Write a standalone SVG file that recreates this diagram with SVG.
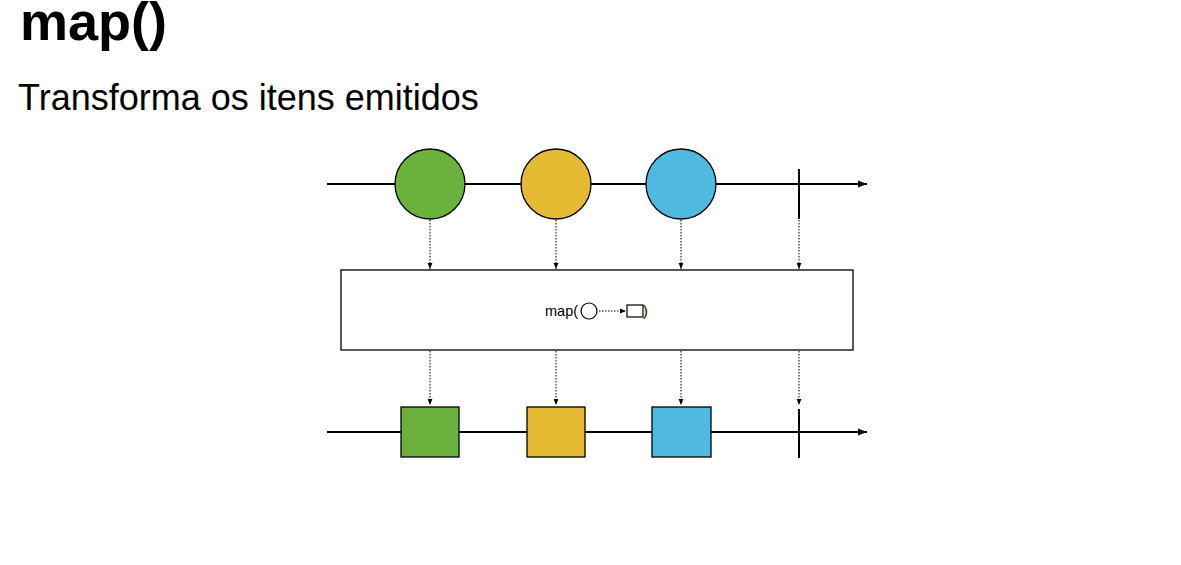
<svg xmlns="http://www.w3.org/2000/svg" width="1181" height="565" viewBox="0 0 1181 565">
<defs>
<marker id="big" viewBox="0 0 10 10" refX="10" refY="5" markerWidth="9" markerHeight="9" markerUnits="userSpaceOnUse" orient="auto"><path d="M0,1 L10,5 L0,9 Z" fill="#000"/></marker>
<marker id="small" viewBox="0 0 10 10" refX="10" refY="5" markerWidth="6" markerHeight="6" markerUnits="userSpaceOnUse" orient="auto"><path d="M0,1 L10,5 L0,9 Z" fill="#000"/></marker>
</defs>
<style>
.line{stroke:#000;stroke-width:2;fill:none}
.dot{stroke:#000;stroke-width:1;stroke-dasharray:1.5 1.5;fill:none}
.item{stroke:#000;stroke-width:1.3}
.g{fill:#6bb23c}.y{fill:#e5bb33}.b{fill:#4fb9e0}
.t{font-family:"Liberation Sans",Arial,sans-serif;fill:#000}
</style>
<rect width="1181" height="565" fill="#fff"/>
<text class="t" x="20" y="40" font-size="54" font-weight="bold">map()</text>
<text class="t" x="18" y="110" font-size="36">Transforma os itens emitidos</text>
<g id="connectors">
<line class="line" x1="327" y1="184" x2="867" y2="184" marker-end="url(#big)"/>
<line class="line" x1="327" y1="432" x2="867" y2="432" marker-end="url(#big)"/>
<line class="dot" x1="430" y1="220" x2="430" y2="269" marker-end="url(#small)"/>
<line class="dot" x1="556" y1="220" x2="556" y2="269" marker-end="url(#small)"/>
<line class="dot" x1="681" y1="220" x2="681" y2="269" marker-end="url(#small)"/>
<line class="dot" x1="799" y1="220" x2="799" y2="269" marker-end="url(#small)"/>
<line class="dot" x1="430" y1="351" x2="430" y2="405" marker-end="url(#small)"/>
<line class="dot" x1="556" y1="351" x2="556" y2="405" marker-end="url(#small)"/>
<line class="dot" x1="681" y1="351" x2="681" y2="405" marker-end="url(#small)"/>
<line class="dot" x1="799" y1="351" x2="799" y2="405" marker-end="url(#small)"/>
</g>
<g id="in-green"><circle class="item g" cx="430" cy="184" r="35"/></g>
<g id="in-yellow"><circle class="item y" cx="556" cy="184" r="35"/></g>
<g id="in-blue"><circle class="item b" cx="681" cy="184" r="35"/></g>
<g id="in-complete"><line class="line" x1="799" y1="169" x2="799" y2="219"/></g>
<g id="operator">
<rect x="341" y="270" width="512" height="80" fill="#fff" stroke="#000" stroke-width="1.3"/>
<text class="t" x="545" y="316" font-size="14.5">map(</text>
<circle cx="589" cy="311" r="8" fill="#fff" stroke="#000" stroke-width="1.2"/>
<line class="dot" x1="599" y1="311" x2="626" y2="311" stroke-dasharray="1 1" marker-end="url(#small)"/>
<rect x="627" y="305" width="16" height="12" fill="#fff" stroke="#000" stroke-width="1.2"/>
<text class="t" x="643" y="316" font-size="14.5">)</text>
</g>
<g id="out-green"><rect class="item g" x="401" y="407" width="58" height="50"/></g>
<g id="out-yellow"><rect class="item y" x="527" y="407" width="58" height="50"/></g>
<g id="out-blue"><rect class="item b" x="652" y="407" width="59" height="50"/></g>
<g id="out-complete"><line class="line" x1="799" y1="409" x2="799" y2="458"/></g>
</svg>
